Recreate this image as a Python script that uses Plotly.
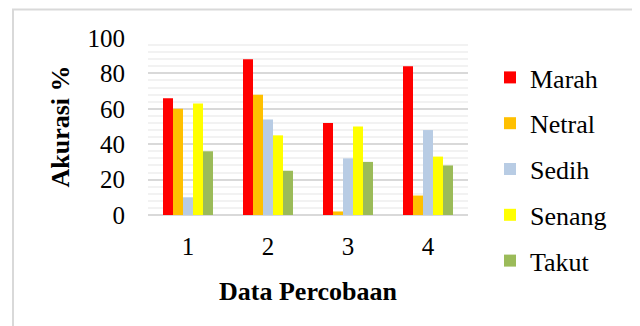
import plotly.graph_objects as go

categories = ["1", "2", "3", "4"]
series_names = ["Marah", "Netral", "Sedih", "Senang", "Takut"]
marah = [66, 88, 52, 84]
netral = [60, 68, 2, 11]
sedih = [10, 54, 32, 48]
senang = [63, 45, 50, 33]
takut = [36, 25, 30, 28]
colors = ["#FF0000", "#FFC000", "#B8CCE4", "#FFFF00", "#9BBB59"]

values = [marah, netral, sedih, senang, takut]

FONT = "Liberation Serif, Times New Roman, serif"

fig = go.Figure()
for name, vals, col in zip(series_names, values, colors):
    fig.add_trace(go.Bar(x=categories, y=vals, name=name, marker_color=col,
                         marker_line_width=0, legendgroup=name))

# figure is placed at (8, 8) in the page by the default body margin
W, H = 632, 318
L, T = 140, 30
R = W - 460
B = H - 207
pw, ph = W - L - R, H - T - B

def px_x(x):
    return (x - L) / pw

def px_y(y):
    return (H - B - y) / ph

fig.update_layout(
    width=W, height=H,
    margin=dict(l=L, r=R, t=T, b=B, pad=0, autoexpand=False),
    paper_bgcolor="white", plot_bgcolor="white",
    barmode="group", bargap=0.375, bargroupgap=0,
    font=dict(family=FONT, size=25, color="#000000"),
    legend=dict(x=px_x(482), y=px_y(46), xanchor="left", yanchor="top",
                font=dict(family=FONT, size=26), tracegroupgap=9,
                traceorder="grouped", bgcolor="rgba(0,0,0,0)", maxheight=300),
    xaxis=dict(showgrid=False, showline=False, ticks="", automargin=False,
               ticklabelstandoff=14,
               title=dict(text="<b>Data Percobaan</b>", font=dict(family=FONT, size=26), standoff=22),
               tickfont=dict(family=FONT, size=25)),
    yaxis=dict(range=[0, 100], dtick=20, showgrid=True, gridcolor="#D9D9D9", gridwidth=1.5,
               zeroline=True, zerolinecolor="#D9D9D9", zerolinewidth=2, automargin=False,
               minor=dict(dtick=4, showgrid=True, gridcolor="#F2F2F2", gridwidth=1.5),
               ticks="", ticklabelstandoff=22,
               tickfont=dict(family=FONT, size=25),
               title=dict(text="<b>Akurasi %</b>", font=dict(family=FONT, size=26), standoff=10)),
    shapes=[dict(type="rect", xref="paper", yref="paper",
                 x0=px_x(5), x1=px_x(626), y0=px_y(340), y1=px_y(1.5),
                 line=dict(color="#D9D9D9", width=2), fillcolor="rgba(0,0,0,0)", layer="below")],
)

fig.write_html("out.html")
